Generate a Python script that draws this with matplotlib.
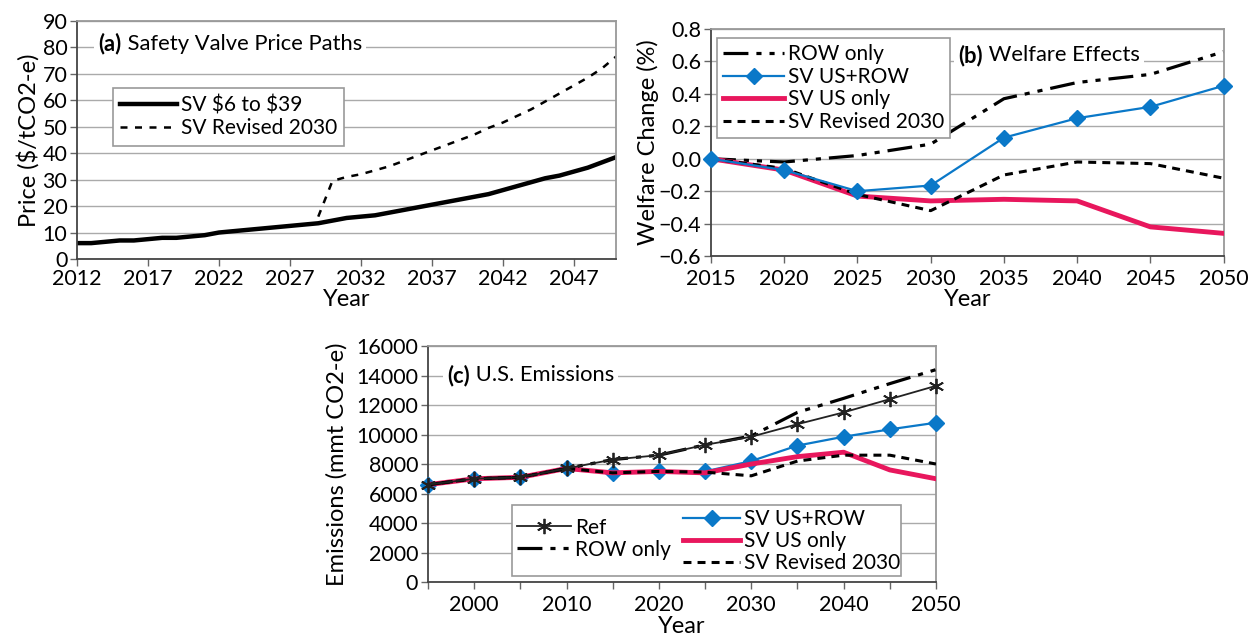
import numpy as np
import matplotlib
matplotlib.use("Agg")
import matplotlib.pyplot as plt
from matplotlib.patches import Rectangle

plt.rcParams['font.family'] = ['Lato', 'DejaVu Sans']
plt.rcParams['axes.unicode_minus'] = True

# ---- data ----
# (a) safety valve price paths
price_years = list(range(2012, 2051))
sv_6_39 = [6, 6, 6.5, 7, 7, 7.5, 8, 8, 8.5, 9, 10, 10.5, 11, 11.5, 12, 12.5,
           13, 13.5, 14.5, 15.5, 16, 16.5, 17.5, 18.5, 19.5, 20.5, 21.5, 22.5,
           23.5, 24.5, 26, 27.5, 29, 30.5, 31.5, 33, 34.5, 36.5, 38.5]
rev_years = list(range(2029, 2051))
sv_rev_2030 = [16, 29.5, 31, 32, 33.5, 35, 37, 39, 41, 43, 45, 47, 49.5, 51.5,
               54, 56.5, 59.5, 62.5, 65.5, 68.5, 72, 76.5]

# (b) welfare effects
wel_years = [2015, 2020, 2025, 2030, 2035, 2040, 2045, 2050]
wel_row = [0, -0.02, 0.02, 0.09, 0.37, 0.47, 0.52, 0.66]
wel_us_row = [0, -0.07, -0.20, -0.165, 0.13, 0.25, 0.32, 0.45]
wel_us = [0, -0.07, -0.23, -0.26, -0.25, -0.26, -0.42, -0.46]
wel_rev = [0, -0.06, -0.22, -0.32, -0.10, -0.02, -0.03, -0.12]

# (c) U.S. emissions
em_years = [1995, 2000, 2005, 2010, 2015, 2020, 2025, 2030, 2035, 2040, 2045, 2050]
em_ref = [6600, 7000, 7100, 7700, 8300, 8600, 9300, 9850, 10700, 11500, 12400, 13300]
em_row = [6600, 7000, 7100, 7700, 8300, 8600, 9300, 9900, 11500, 12450, 13450, 14400]
em_us_row = [6600, 7000, 7100, 7700, 7400, 7500, 7500, 8200, 9250, 9850, 10350, 10800]
em_us = [6600, 7000, 7100, 7700, 7400, 7500, 7400, 8000, 8500, 8800, 7600, 7000]
em_rev = [6600, 7000, 7100, 7700, 7400, 7500, 7450, 7200, 8200, 8600, 8600, 8000]

BLUE = '#0a78c8'
RED = '#e8175d'
ROW_DASH = (7.8, 2.5, 1.6, 2.5, 1.6, 2.5)
REV_DASH = (2.6, 2.0)
TICK_FS = 15.5
LAB_FS = 17
LEG_FS = 15
TITLE_FS = 15.8


def style_axes(ax):
    ax.grid(axis='y', color='#aaaaaa', lw=1)
    ax.set_axisbelow(True)
    for s in ['left', 'bottom']:
        ax.spines[s].set_color('#444444')
        ax.spines[s].set_linewidth(1.3)
    for s in ['top', 'right']:
        ax.spines[s].set_color('#999999')
        ax.spines[s].set_linewidth(1.3)
    ax.tick_params(axis='both', direction='out', length=5, width=1,
                   color='#666666', labelsize=TICK_FS, pad=2)


def panel_title(ax, x, y, tag, rest):
    t = ax.text(x, y, tag, transform=ax.transAxes, fontsize=TITLE_FS,
                fontweight='bold', va='center', ha='left', zorder=8,
                bbox=dict(facecolor='white', edgecolor='none', pad=3))
    ax.annotate(' ' + rest, xy=(1, 0.5), xycoords=t, va='center', ha='left',
                fontsize=TITLE_FS, zorder=7,
                bbox=dict(facecolor='white', edgecolor='none', pad=3))


def frame_style(leg):
    leg.get_frame().set_edgecolor('#999999')
    leg.get_frame().set_linewidth(1.2)


fig = plt.figure(figsize=(12.55, 6.37), dpi=100)

# ---------- (a) ----------
ax1 = fig.add_axes([0.0614, 0.5934, 0.4296, 0.3741])
style_axes(ax1)
ax1.plot(price_years, sv_6_39, color='black', lw=3.2, label='SV \\$6 to \\$39')
ax1.plot(rev_years, sv_rev_2030, color='black', lw=1.8, dashes=(2.8, 3.0),
         label='SV Revised 2030')
ax1.set_xlim(2012, 2050)
ax1.set_ylim(0, 90)
ax1.set_yticks(range(0, 91, 10))
ax1.set_xticks(range(2012, 2050, 5))
ax1.set_xlabel('Year', fontsize=LAB_FS, labelpad=0)
ax1.set_ylabel('Price (\\$/tCO2-e)', fontsize=LAB_FS, labelpad=2)
panel_title(ax1, 0.04, 0.903, '(a)', 'Safety Valve Price Paths')
leg1 = ax1.legend(loc='upper left', bbox_to_anchor=(0.067, 0.718), fontsize=LEG_FS,
                  handlelength=2.7, handletextpad=0.2, borderpad=0.35,
                  borderaxespad=0, labelspacing=0.15, fancybox=False, framealpha=1)
frame_style(leg1)

# ---------- (b) ----------
ax2 = fig.add_axes([0.5665, 0.598, 0.4085, 0.3565])
style_axes(ax2)
ax2.plot(wel_years, wel_row, color='black', lw=2.3, dashes=ROW_DASH, label='ROW only')
ax2.plot(wel_years, wel_us_row, color=BLUE, lw=1.6, marker='D', ms=8,
         label='SV US+ROW', zorder=4, clip_on=False)
ax2.plot(wel_years, wel_us, color=RED, lw=3.5, label='SV US only', zorder=3)
ax2.plot(wel_years, wel_rev, color='black', lw=2.2, dashes=REV_DASH,
         label='SV Revised 2030', zorder=3.5)
ax2.set_xlim(2015, 2050)
ax2.set_ylim(-0.6, 0.8)
ax2.set_xticks(wel_years)
ax2.set_yticks(np.arange(-0.6, 0.81, 0.2))
ax2.yaxis.set_major_formatter(matplotlib.ticker.FuncFormatter(
    lambda v, p: ('%.1f' % v).replace('-', '\u2212')))
ax2.tick_params(axis='x', pad=4)
ax2.set_xlabel('Year', fontsize=LAB_FS, labelpad=0)
ax2.set_ylabel('Welfare Change (%)', fontsize=LAB_FS, labelpad=0)
panel_title(ax2, 0.482, 0.885, '(b)', 'Welfare Effects')
leg2 = ax2.legend(loc='upper left', bbox_to_anchor=(0.012, 0.96), fontsize=LEG_FS,
                  handlelength=2.9, handletextpad=0.2, borderpad=0.3,
                  borderaxespad=0, labelspacing=0.12, fancybox=False, framealpha=1)
frame_style(leg2)
leg2.set_zorder(6)

# ---------- (c) ----------
ax3 = fig.add_axes([0.341, 0.0863, 0.4048, 0.3705])
style_axes(ax3)
h_usrow, = ax3.plot(em_years, em_us_row, color=BLUE, lw=1.6, marker='D', ms=8,
                    label='SV US+ROW', zorder=3, clip_on=False)
h_us, = ax3.plot(em_years, em_us, color=RED, lw=3.5, label='SV US only', zorder=3.2)
h_rev, = ax3.plot(em_years, em_rev, color='black', lw=2.2, dashes=REV_DASH,
                  label='SV Revised 2030', zorder=3.4)
h_row, = ax3.plot(em_years, em_row, color='black', lw=2.3, dashes=ROW_DASH,
                  label='ROW only', zorder=3.5)
h_ref, = ax3.plot(em_years, em_ref, color='#222222', lw=1.3, marker=(6, 2, 0), ms=11,
                  mew=1.3, label='Ref', zorder=3.6, clip_on=False)
ax3.set_xlim(1995, 2050)
ax3.set_ylim(0, 16000)
ax3.set_yticks(range(0, 16001, 2000))
ax3.set_xticks(em_years)
ax3.set_xticklabels([str(y) if y % 10 == 0 else '' for y in em_years])
ax3.tick_params(axis='x', pad=4)
ax3.set_xlabel('Year', fontsize=LAB_FS, labelpad=1)
ax3.set_ylabel('Emissions (mmt CO2-e)', fontsize=LAB_FS, labelpad=6)
panel_title(ax3, 0.037, 0.877, '(c)', 'U.S. Emissions')

ax3.add_patch(Rectangle((0.166, 0.025), 0.765, 0.30, transform=ax3.transAxes,
                        facecolor='white', edgecolor='#999999', lw=1.2, zorder=5))
legA = ax3.legend(handles=[h_ref, h_row], loc='center left',
                  bbox_to_anchor=(0.175, 0.184), fontsize=LEG_FS, frameon=False,
                  handlelength=2.6, handletextpad=0.2, labelspacing=0.1,
                  borderaxespad=0, borderpad=0)
legA.set_zorder(6)
ax3.add_artist(legA)
legB = ax3.legend(handles=[h_usrow, h_us, h_rev], loc='center left',
                  bbox_to_anchor=(0.503, 0.174), fontsize=LEG_FS, frameon=False,
                  handlelength=2.7, handletextpad=0.2, labelspacing=0.1,
                  borderaxespad=0, borderpad=0)
legB.set_zorder(6)

fig.savefig('out.png', dpi=100)
